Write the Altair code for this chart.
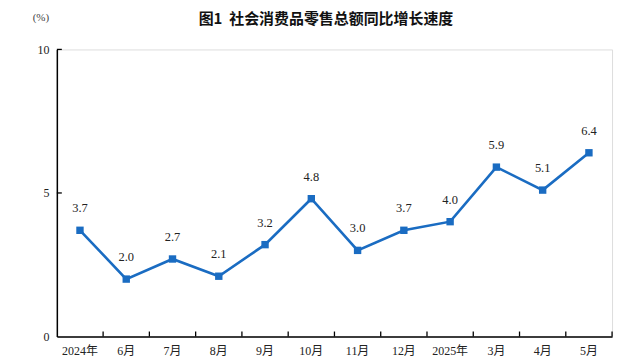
import altair as alt
import pandas as pd

months = ["2024年", "6月", "7月", "8月", "9月", "10月", "11月", "12月", "2025年", "3月", "4月", "5月"]
values = [3.7, 2.0, 2.7, 2.1, 3.2, 4.8, 3.0, 3.7, 4.0, 5.9, 5.1, 6.4]
y_ticks = [0, 5, 10]
y_tick_marks = [5, 10]
title_text = "图1\u00a0\u00a0社会消费品零售总额同比增长速度"
unit_text = "(%)"

W, H = 557, 288
BLUE = "#1a6cc2"
FONT = "Liberation Serif, Noto Sans CJK SC"

df = pd.DataFrame({"month": months, "value": values})
df["label"] = [f"{v:.1f}" for v in values]
ydf = pd.DataFrame({"t": y_tick_marks})
tdf = pd.DataFrame({"title": [title_text], "unit": [unit_text]})

xscale = alt.Scale(type="band", domain=months, paddingInner=0, paddingOuter=0)
yscale = alt.Scale(domain=[0, 10], nice=False)

x_enc = alt.X("month:N", scale=xscale, sort=months,
              axis=alt.Axis(title=None, labelAngle=0, ticks=False, domainColor="#000",
                            domainWidth=1.5, labelPadding=9, labelFont=FONT,
                            labelFontSize=12, labelColor="#222"))
y_enc = alt.Y("value:Q", scale=yscale,
              axis=alt.Axis(title=None, values=y_ticks, grid=False, ticks=False,
                            domainColor="#000", domainWidth=1.5, labelPadding=8,
                            labelFont=FONT, labelFontSize=12, labelColor="#222"))

line = alt.Chart(df).mark_line(color=BLUE, strokeWidth=2.6).encode(x=x_enc, y=y_enc)
pts = alt.Chart(df).mark_square(color=BLUE, size=55, opacity=1).encode(x=x_enc, y=y_enc)
txt = alt.Chart(df).mark_text(dy=-22, font=FONT, fontSize=12.5, color="#222").encode(
    x=x_enc, y=y_enc, text="label:N")

xt = alt.Chart(df).mark_rule(color="#000", strokeWidth=1.3).encode(
    x=alt.X("month:N", scale=xscale, sort=months, bandPosition=1),
    y=alt.value(H), y2=alt.value(H - 5))
yt = alt.Chart(ydf).mark_rule(color="#000", strokeWidth=1.3).encode(
    y=alt.Y("t:Q", scale=yscale), x=alt.value(0), x2=alt.value(5))

ttl = alt.Chart(tdf).mark_text(font="Noto Sans CJK SC", fontSize=15, fontWeight="bold",
                               color="#111", align="center", baseline="middle").encode(
    x=alt.value(270), y=alt.value(-31), text="title:N")
unit = alt.Chart(tdf).mark_text(font=FONT, fontSize=11, color="#444", align="center",
                                baseline="middle").encode(
    x=alt.value(-16), y=alt.value(-32), text="unit:N")

chart = alt.layer(line, pts, txt, xt, yt, ttl, unit).properties(
    width=W, height=H,
    autosize=alt.AutoSizeParams(type="none"),
    padding={"left": 49, "top": 41, "right": 20, "bottom": 20},
).configure_view(stroke=None).configure(background="white")

chart.save("out.html", embed_options={"renderer": "svg", "actions": False})
